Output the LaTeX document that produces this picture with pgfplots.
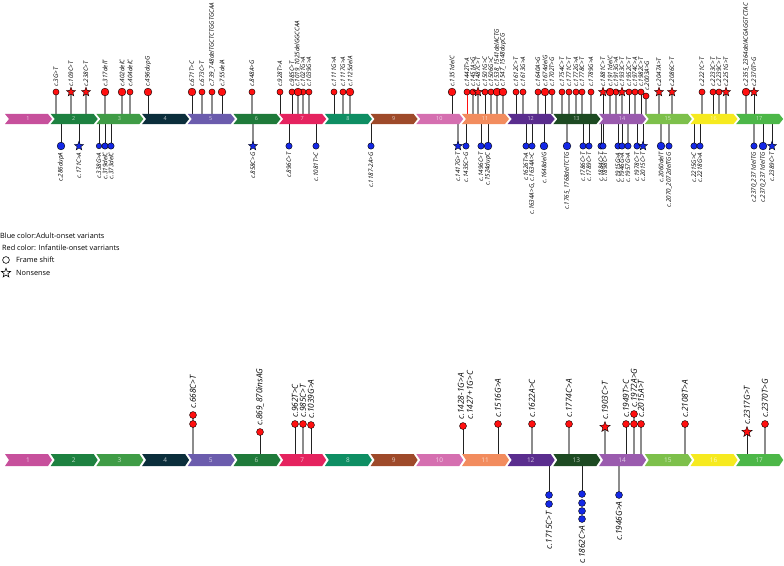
\documentclass[border=0pt]{standalone}
\usepackage{fontspec}
\setmainfont{Open Sans}
\usepackage{pgfplots}
\pgfplotsset{compat=1.18}
\usetikzlibrary{plotmarks}

\definecolor{ex1}{HTML}{C7509C}
\definecolor{ex2}{HTML}{1D8140}
\definecolor{ex3}{HTML}{3F9C46}
\definecolor{ex4}{HTML}{0B2E3B}
\definecolor{ex5}{HTML}{6B5CAD}
\definecolor{ex6}{HTML}{1F7A3A}
\definecolor{ex7}{HTML}{E5235F}
\definecolor{ex8}{HTML}{0E8E63}
\definecolor{ex9}{HTML}{9E4A2A}
\definecolor{ex10}{HTML}{D56FB0}
\definecolor{ex11}{HTML}{F28C5E}
\definecolor{ex12}{HTML}{5A2D8E}
\definecolor{ex13}{HTML}{1D4A22}
\definecolor{ex14}{HTML}{9A5BAE}
\definecolor{ex15}{HTML}{7DC04B}
\definecolor{ex16}{HTML}{F6EA1F}
\definecolor{ex17}{HTML}{4CB748}
\definecolor{mred}{HTML}{FF1010}
\definecolor{mblue}{HTML}{1428E6}
\definecolor{stemg}{HTML}{8C8C8C}
\definecolor{steml}{HTML}{222222}

\pgfdeclareplotmark{fstar}{%
 \pgfpathmoveto{\pgfpointpolar{90}{\pgfplotmarksize}}%
 \pgfpathlineto{\pgfpointpolar{126}{0.42\pgfplotmarksize}}%
 \pgfpathlineto{\pgfpointpolar{162}{\pgfplotmarksize}}%
 \pgfpathlineto{\pgfpointpolar{198}{0.42\pgfplotmarksize}}%
 \pgfpathlineto{\pgfpointpolar{234}{\pgfplotmarksize}}%
 \pgfpathlineto{\pgfpointpolar{270}{0.42\pgfplotmarksize}}%
 \pgfpathlineto{\pgfpointpolar{306}{\pgfplotmarksize}}%
 \pgfpathlineto{\pgfpointpolar{342}{0.42\pgfplotmarksize}}%
 \pgfpathlineto{\pgfpointpolar{18}{\pgfplotmarksize}}%
 \pgfpathlineto{\pgfpointpolar{54}{0.42\pgfplotmarksize}}%
 \pgfpathclose
 \pgfusepathqfillstroke}

\newcommand{\exon}[4]{%
  \pgfmathsetmacro{\xa}{5+(#1-1)*45.7}%
  \pgfmathsetmacro{\xb}{\xa+43}%
  \pgfmathsetmacro{\xn}{\xa+4}%
  \pgfmathsetmacro{\xt}{\xa+47}%
  \pgfmathsetmacro{\ym}{(#2+#3)/2}%
  \pgfmathsetmacro{\xl}{\xa+23}%
  \edef\doexon{\noexpand\addplot[fill=ex#1,draw=none,forget plot] coordinates {(\xa,#2) (\xb,#2) (\xt,\ym) (\xb,#3) (\xa,#3) (\xn,\ym)};}%
  \doexon
  \edef\doexonlab{\noexpand\node[text=white,text opacity=0.7,inner sep=0pt,font=\noexpand\fontsize{#4}{#4}\noexpand\selectfont] at (axis cs:\xl,\ym) {#1};}%
  \doexonlab}

\tikzset{
  tl/.style={rotate=90,inner sep=0.3pt,font=\fontsize{6.3}{7}\selectfont\itshape},
  bl/.style={rotate=90,inner sep=0.3pt,font=\fontsize{8.3}{9}\selectfont\itshape},
}
\newcommand{\RT}[2]{\node[tl,anchor=west] at (axis cs:#1,87) {#2};}
\newcommand{\BT}[2]{\node[tl,anchor=east] at (axis cs:#1,152) {#2};}
\newcommand{\RB}[3]{\node[bl,anchor=west] at (axis cs:#1,#2) {#3};}
\newcommand{\BB}[3]{\node[bl,anchor=east] at (axis cs:#1,#2) {#3};}

\begin{document}
\begin{tikzpicture}
\useasboundingbox (0,0) rectangle (784bp,566bp);
\begin{axis}[at={(0,0)},anchor=south west,scale only axis,width=784bp,height=566bp,
  xmin=0,xmax=784,ymin=0,ymax=566,y dir=reverse,hide axis,clip=false]

% ---------------- TOP TRACK ----------------
\pgfplotsinvokeforeach{56,71,86,105,122,130,202,212,252,298,303,309,343,350,473,478,491,497,503,523,538,552,562,569,576,582,591,610,616,622,635,659,672,702,719,726,746}{
  \addplot[stemg,line width=1.1pt,forget plot] coordinates {(#1,114) (#1,92)};}
\pgfplotsinvokeforeach{148,192,222,280,292,334,452,485,516,545,603,629,641,713,754}{
  \addplot[steml,line width=0.9pt,forget plot] coordinates {(#1,114) (#1,92)};}
\addplot[stemg,line width=1.1pt,forget plot] coordinates {(646,114) (646,96)};
\addplot[mred,line width=0.8pt,forget plot] coordinates {(467,114) (467,92)};
\pgfplotsinvokeforeach{61,79,99,105,111,289,316,371,466,481,488,526,532,544,583,589,601,603,618,622,637,643,694,700,763,772}{
  \addplot[steml,line width=0.9pt,forget plot] coordinates {(#1,124) (#1,146)};}
\pgfplotsinvokeforeach{253,458,567,628,661,669,754}{
  \addplot[stemg,line width=1.1pt,forget plot] coordinates {(#1,124) (#1,146)};}

\pgfplotsinvokeforeach{1,...,17}{\exon{#1}{114}{124}{5.5}}

\addplot[only marks,mark=*,mark size=3.1,mark options={fill=mred,draw=black,line width=0.4pt}] coordinates {
(56,92) (130,92) (202,92) (212,92) (252,92) (280,92) (292,92) (303,92) (309,92) (334,92) (343,92)
(467,92) (473,92) (485,92) (491,92) (516,92) (523,92) (538,92) (552,92) (562,92) (569,92) (576,92)
(582,92) (591,92) (616,92) (629,92) (635,92) (641,92) (646,96) (702,92) (713,92) (719,92)};
\addplot[only marks,mark=*,mark size=3.9,mark options={fill=mred,draw=black,line width=0.4pt}] coordinates {
(105,92) (122,92) (148,92) (192,92) (222,92) (298,92) (350,92) (452,92) (497,92) (503,92) (545,92) (610,92) (746,92)};
\addplot[only marks,mark=fstar,mark size=4.8,mark options={fill=mred,draw=black,line width=0.4pt}] coordinates {
(71,92) (86,92) (478,92) (603,92) (622,92) (659,92) (672,92) (726,92) (754,92)};

\addplot[only marks,mark=*,mark size=3.2,mark options={fill=mblue,draw=black,line width=0.4pt}] coordinates {
(105,146) (111,146) (289,146) (316,146) (371,146) (466,146) (481,146) (526,146) (532,146) (583,146) (589,146)
(601,146) (603,146) (618,146) (622,146) (628,146) (637,146) (669,146) (694,146) (700,146) (754,146)};
\addplot[only marks,mark=*,mark size=2.8,mark options={fill=mblue,draw=black,line width=0.4pt}] coordinates {(99,146)};
\addplot[only marks,mark=*,mark size=3.9,mark options={fill=mblue,draw=black,line width=0.4pt}] coordinates {
(61,146) (488,146) (544,146) (567,146) (661,146) (763,146)};
\addplot[only marks,mark=fstar,mark size=4.8,mark options={fill=mblue,draw=black,line width=0.4pt}] coordinates {
(79,146) (253,146) (458,146) (643,146) (772,146)};

\RT{56}{c.3G>T}\RT{71}{c.109C>T}\RT{86}{c.238C>T}\RT{105}{c.317delT}\RT{122}{c.402delC}
\RT{130}{c.404delC}\RT{148}{c.496dupG}\RT{192}{c.671T>C}\RT{202}{c.673C>T}
\RT{212}{c.739\_748delTGCTCTGGTGCAA}\RT{222}{c.755delA}\RT{252}{c.848A>G}\RT{280}{c.928T>A}
\RT{292}{c.985C>T}\RT{297.5}{c.1019\_1025delGGCCAA}\RT{303}{c.1021G>A}\RT{309}{c.1039G>A}
\RT{334}{c.1111G>A}\RT{343}{c.1117G>A}\RT{350}{c.1125delA}\RT{452}{c.1351delC}
\RT{467}{c.1442T>A}\RT{473}{c.1451A>G}\RT{478}{c.1487C>T}\RT{485}{c.1501G>C}\RT{491}{c.1506G>C}
\RT{497}{c.1538\_1541delACTG}\RT{503}{c.1547\_1548dupCG}\RT{516}{c.1612C>T}\RT{523}{c.1613G>A}
\RT{538}{c.1640A>G}\RT{545}{c.1674delG}\RT{552}{c.1702T>G}\RT{562}{c.1754C>T}\RT{569}{c.1771C>T}
\RT{576}{c.1772G>A}\RT{582}{c.1778C>T}\RT{591}{c.1789G>A}\RT{603}{c.1881C>T}\RT{610}{c.1911delC}
\RT{616}{c.1913G>A}\RT{622}{c.1933C>T}\RT{629}{c.1952C>T}\RT{635}{c.1974C>A}\RT{641}{c.1982C>T}
\node[tl,anchor=west] at (axis cs:647,91) {c.2003A>G};
\RT{659}{c.2047A>T}\RT{672}{c.2086C>T}\RT{702}{c.2221C>T}\RT{713}{c.2233C>T}\RT{719}{c.2239C>T}
\RT{726}{c.2251G>T}\RT{746}{c.2355\_2364delACGAGGTCTAC}\RT{754}{c.2370T>G}

\BT{61}{c.286dupA}\BT{79}{c.171C>A}\BT{99}{c.338G>A}\BT{105}{c.319delC}\BT{111}{c.373delC}
\BT{253}{c.858C>G}\BT{289}{c.896C>T}\BT{316}{c.1081T>C}\BT{371}{c.1187-2A>G}
\BT{458}{c.1417G>T}\BT{466}{c.1435C>G}\BT{481}{c.1496C>T}\BT{488}{c.1524dupC}
\BT{526}{c.1626T>A}\BT{532}{c.1634A>G, c.1634A>C}\BT{544}{c.1648delG}\BT{567}{c.1765\_1768delTCTG}
\BT{583}{c.1786C>T}\BT{589}{c.1789C>T}\BT{601}{c.1884C>T}\BT{605}{c.1898C>T}
\BT{618}{c.1915G>A}\BT{622}{c.1946G>A}\BT{628}{c.1957G>A}\BT{637}{c.1978C>T}\BT{643}{c.2015C>T}
\BT{661}{c.2060delT}\BT{669}{c.2070\_2072delTGG}\BT{694}{c.2215G>C}\BT{700}{c.2218G>A}
\BT{754}{c.2370\_2371delTG}\BT{763}{c.2370\_2371delTG}\BT{772}{c.2389C>T}

% ---------------- LEGEND ----------------
\node[anchor=west,inner sep=0pt,font=\fontsize{7.3}{8}\selectfont] at (axis cs:0,236) {Blue color:Adult-onset variants};
\node[anchor=west,inner sep=0pt,font=\fontsize{7.3}{8}\selectfont] at (axis cs:2,247.5) {Red color: Infantile-onset varriants};
\addplot[only marks,mark=*,mark size=3.4,mark options={fill=white,draw=black,line width=0.6pt}] coordinates {(6,260)};
\addplot[only marks,mark=fstar,mark size=4.8,mark options={fill=white,draw=black,line width=0.6pt}] coordinates {(6,273)};
\node[anchor=west,inner sep=0pt,font=\fontsize{7.3}{8}\selectfont] at (axis cs:16,260) {Frame shift};
\node[anchor=west,inner sep=0pt,font=\fontsize{7.3}{8}\selectfont] at (axis cs:16,273) {Nonsense};

% ---------------- BOTTOM TRACK ----------------
\addplot[stemg,line width=1.1pt,forget plot] coordinates {(193,454) (193,415)};
\addplot[steml,line width=0.9pt,forget plot] coordinates {(260,454) (260,432)};
\pgfplotsinvokeforeach{295,311,463,498,626}{
  \addplot[steml,line width=0.9pt,forget plot] coordinates {(#1,454) (#1,424)};}
\pgfplotsinvokeforeach{303,532,569,641,685,765}{
  \addplot[stemg,line width=1.1pt,forget plot] coordinates {(#1,454) (#1,424)};}
\addplot[stemg,line width=1.1pt,forget plot] coordinates {(605,454) (605,427)};
\addplot[stemg,line width=1.1pt,forget plot] coordinates {(634,454) (634,414)};
\addplot[steml,line width=0.9pt,forget plot] coordinates {(747,454) (747,432)};
\addplot[steml,line width=0.9pt,forget plot] coordinates {(549,466) (549,495)};
\addplot[steml,line width=0.9pt,forget plot] coordinates {(582,466) (582,495)};
\addplot[stemg,line width=1.1pt,forget plot] coordinates {(619,466) (619,495)};

\pgfplotsinvokeforeach{1,...,17}{\exon{#1}{454}{466}{6.5}}

\addplot[only marks,mark=*,mark size=3.5,mark options={fill=mred,draw=black,line width=0.4pt}] coordinates {
(193,415) (193,424) (260,432) (295,424) (303,424) (311,425) (463,426) (498,424) (532,424) (569,424)
(626,424) (634,414) (634,424) (641,424) (685,424) (765,424)};
\addplot[only marks,mark=fstar,mark size=5.5,mark options={fill=mred,draw=black,line width=0.4pt}] coordinates {
(605,427) (747,432)};
\addplot[only marks,mark=*,mark size=3.5,mark options={fill=mblue,draw=black,line width=0.4pt}] coordinates {
(549,495) (549,504) (582,494) (582,503) (582,511) (582,519) (619,495)};

\RB{193}{409}{c.668C>T}\RB{260}{426}{c.869\_870insAG}\RB{295}{418}{c.962T>C}\RB{303}{418}{c.985C>T}
\RB{311}{419}{c.1039G>A}\RB{461}{420}{c.1428-1G>A}\RB{470}{420}{c.1427+1G>C}\RB{498}{418}{c.1516G>A}
\RB{532}{418}{c.1622A>C}\RB{569}{418}{c.1774C>A}\RB{605}{420}{c.1903C>T}\RB{626}{418}{c.1949T>C}
\RB{634}{408}{c.1972A>G}\RB{641}{418}{c.2015A>T}\RB{685}{418}{c.2108T>A}\RB{747}{425}{c.2317G>T}
\RB{765}{418}{c.2370T>G}
\BB{549}{511}{c.1715C>T}\BB{582}{525}{c.1862C>A}\BB{619}{501}{c.1946G>A}

\end{axis}
\end{tikzpicture}
\end{document}
